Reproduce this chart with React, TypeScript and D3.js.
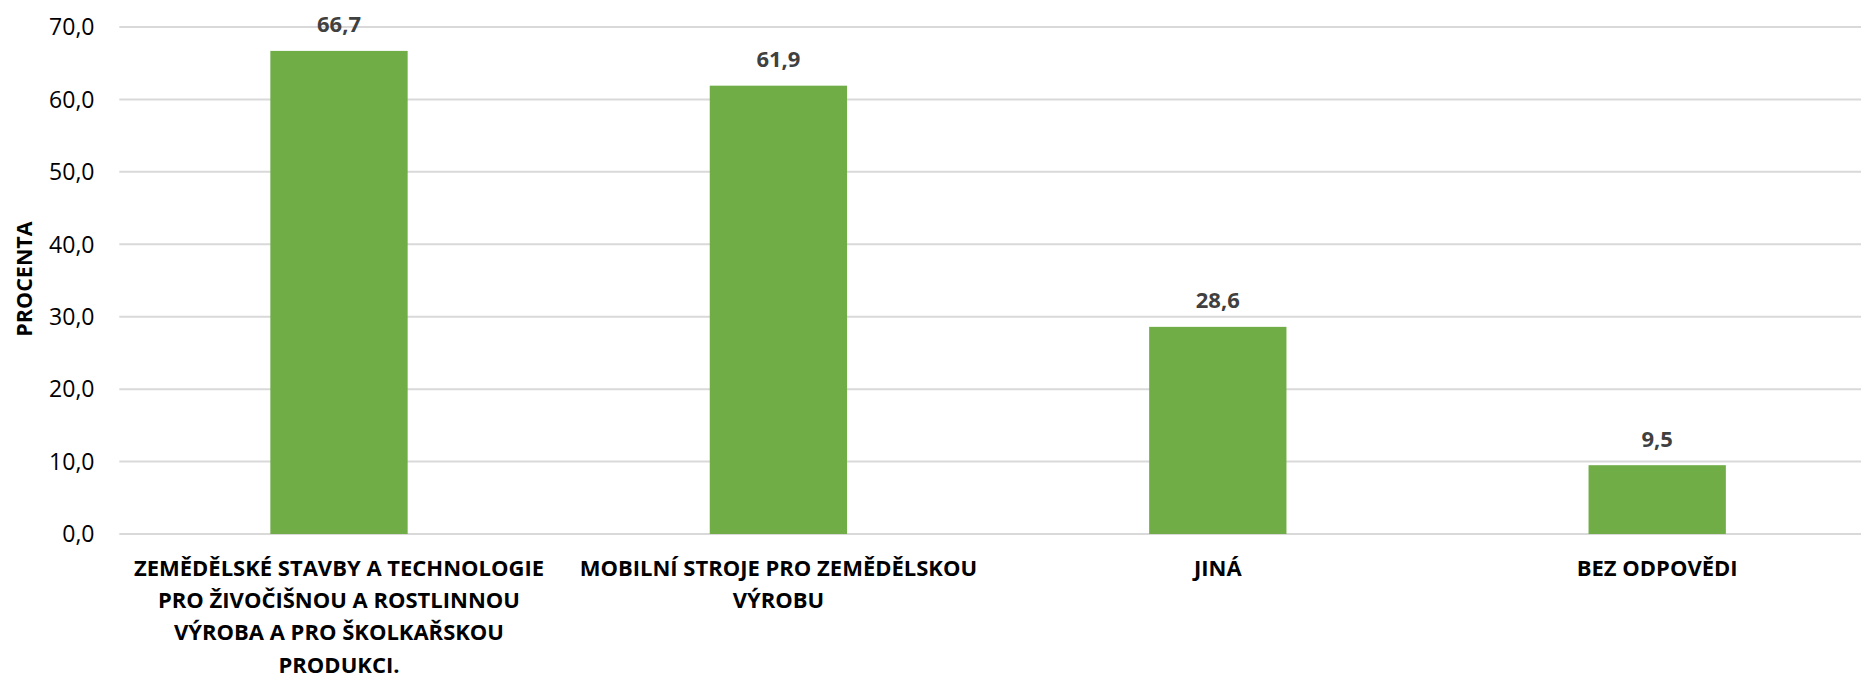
import React from "react";
import * as d3 from "d3";

const categories: string[] = [
  "ZEMĚDĚLSKÉ STAVBY A TECHNOLOGIE PRO ŽIVOČIŠNOU A ROSTLINNOU VÝROBA A PRO ŠKOLKAŘSKOU PRODUKCI.",
  "MOBILNÍ STROJE PRO ZEMĚDĚLSKOU VÝROBU",
  "JINÁ",
  "BEZ ODPOVĚDI",
];
const categoryLines: string[][] = [
  ["ZEMĚDĚLSKÉ STAVBY A TECHNOLOGIE", "PRO ŽIVOČIŠNOU A ROSTLINNOU", "VÝROBA A PRO ŠKOLKAŘSKOU", "PRODUKCI."],
  ["MOBILNÍ STROJE PRO ZEMĚDĚLSKOU", "VÝROBU"],
  ["JINÁ"],
  ["BEZ ODPOVĚDI"],
];
const values: number[] = [66.7, 61.9, 28.6, 9.5];
const yTicks: number[] = [0, 10, 20, 30, 40, 50, 60, 70];
const yTitle = "PROCENTA";

const W = 1861;
const H = 675;
const fmt = (v: number) => v.toFixed(1).replace(".", ",");

export default function App() {
  const x = d3
    .scaleBand<string>()
    .domain(categories)
    .range([119.3, 1876.9])
    .paddingInner(0.6875)
    .paddingOuter(0.34375);
  const y = d3.scaleLinear().domain([0, 70]).range([534, 27]);
  const font = "'Open Sans', 'Noto Sans', sans-serif";

  return (
    <svg
      width={W}
      height={H}
      style={{ position: "absolute", left: 0, top: 0, display: "block", background: "#fff" }}
      fontFamily={font}
    >
      <rect x={0} y={0} width={W} height={H} fill="#fff" />
      {yTicks.map((t) => (
        <g key={t}>
          <line x1={119.3} x2={W} y1={y(t)} y2={y(t)} stroke="#d9d9d9" strokeWidth={2} />
          <text x={94.5} y={y(t) + 8.3} textAnchor="end" fontSize={23} fill="#000">
            {fmt(t)}
          </text>
        </g>
      ))}
      {categories.map((c, i) => (
        <g key={c}>
          <rect
            x={x(c)!}
            y={y(values[i])}
            width={x.bandwidth()}
            height={y(0) - y(values[i])}
            fill="#70AD47"
          />
          <text
            x={x(c)! + x.bandwidth() / 2}
            y={y(values[i]) - 18.5}
            textAnchor="middle"
            fontSize={22}
            fontWeight="bold"
            fill="#404040"
          >
            {fmt(values[i])}
          </text>
          {categoryLines[i].map((ln, j) => (
            <text
              key={j}
              x={x(c)! + x.bandwidth() / 2}
              y={575.7 + j * 32.3}
              textAnchor="middle"
              fontSize={22}
              fontWeight="bold"
              fill="#000"
            >
              {ln}
            </text>
          ))}
        </g>
      ))}
      <text
        transform={`translate(32,279) rotate(-90)`}
        textAnchor="middle"
        fontSize={21.5}
        fontWeight="bold"
        fill="#000"
      >
        {yTitle}
      </text>
    </svg>
  );
}
